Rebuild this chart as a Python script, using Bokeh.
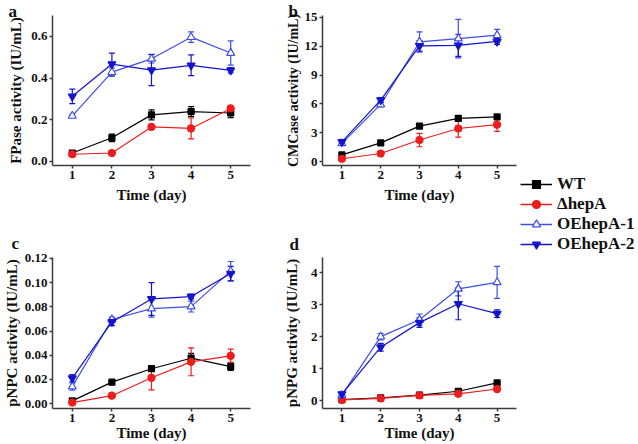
from bokeh.plotting import figure
from bokeh.models import (ColumnDataSource, Whisker, TeeHead, Title, FixedTicker,
                          Legend, LegendItem, Range1d, NumeralTickFormatter)
from bokeh.layouts import row, column
from bokeh.embed import file_html
from bokeh.resources import INLINE

FONT = "Liberation Serif"

# ---------------- data ----------------
days = [1, 2, 3, 4, 5]
series_names = ["WT", "\u0394hepA", "OEhepA-1", "OEhepA-2"]

# a: FPase
fp_wt = [0.040, 0.113, 0.223, 0.239, 0.232]
fp_wt_err = [0.005, 0.018, 0.024, 0.024, 0.022]
fp_dh = [0.034, 0.040, 0.165, 0.158, 0.254]
fp_dh_err = [0.004, 0.005, 0.010, 0.050, 0.006]
fp_oe1 = [0.218, 0.428, 0.492, 0.596, 0.520]
fp_oe1_err = [0.008, 0.020, 0.020, 0.025, 0.058]
fp_oe2 = [0.312, 0.467, 0.438, 0.461, 0.437]
fp_oe2_err = [0.035, 0.052, 0.075, 0.050, 0.013]
fp_ticks = [0.0, 0.2, 0.4, 0.6]

# b: CMCase
cmc_wt = [0.70, 1.95, 3.70, 4.50, 4.65]
cmc_wt_err = [0.10, 0.15, 0.12, 0.10, 0.12]
cmc_dh = [0.30, 0.85, 2.25, 3.45, 3.85]
cmc_dh_err = [0.08, 0.10, 0.70, 0.90, 0.70]
cmc_oe1 = [1.90, 5.95, 12.45, 12.80, 13.15]
cmc_oe1_err = [0.15, 0.25, 1.05, 2.00, 0.60]
cmc_oe2 = [2.05, 6.40, 12.05, 12.10, 12.50]
cmc_oe2_err = [0.15, 0.25, 0.55, 1.15, 0.30]
cmc_ticks = [0, 3, 6, 9, 12, 15]

# c: pNPC
npc_wt = [0.0022, 0.0177, 0.0288, 0.0375, 0.0305]
npc_wt_err = [0.001, 0.001, 0.002, 0.004, 0.003]
npc_dh = [0.0008, 0.0065, 0.0213, 0.0345, 0.0395]
npc_dh_err = [0.001, 0.001, 0.010, 0.0115, 0.0055]
npc_oe1 = [0.0140, 0.0695, 0.0785, 0.0802, 0.1095]
npc_oe1_err = [0.003, 0.002, 0.007, 0.0045, 0.008]
npc_oe2 = [0.0210, 0.0675, 0.0865, 0.0885, 0.1075]
npc_oe2_err = [0.003, 0.003, 0.0135, 0.002, 0.006]
npc_ticks = [0.00, 0.02, 0.04, 0.06, 0.08, 0.10, 0.12]

# d: pNPG
npg_wt = [0.03, 0.08, 0.17, 0.29, 0.55]
npg_wt_err = [0.01, 0.02, 0.03, 0.03, 0.04]
npg_dh = [0.02, 0.07, 0.16, 0.21, 0.36]
npg_dh_err = [0.01, 0.02, 0.03, 0.04, 0.08]
npg_oe1 = [0.17, 2.00, 2.53, 3.50, 3.70]
npg_oe1_err = [0.05, 0.10, 0.18, 0.22, 0.50]
npg_oe2 = [0.20, 1.67, 2.44, 3.03, 2.72]
npg_oe2_err = [0.05, 0.12, 0.15, 0.50, 0.12]
npg_ticks = [0, 1, 2, 3, 4]

# ---------------- style ----------------
STYLES = [
    dict(color="#000000", marker="square", size=6, fill="#000000"),
    dict(color="#ee1c1c", marker="circle", size=7, fill="#ee1c1c"),
    dict(color="#3d4fe4", marker="triangle", size=8, fill="#ffffff"),
    dict(color="#1414cc", marker="inverted_triangle", size=8, fill="#1414cc"),
]
AXIS_COLOR = "#3c3c3c"
XR = (0.5, 5.5)


def make_panel(width, height, bl, br, bt, bb, yr, yticks, yfmt, data, ylabel,
               ylab_standoff, xlab_standoff, letter, letter_offset,
               letter_standoff, letter_valign, ylab_size="15px"):
    p = figure(width=width, height=height, x_range=Range1d(*XR),
               y_range=Range1d(*yr), output_backend="svg",
               toolbar_location=None, min_border_left=bl,
               min_border_right=br, min_border_top=bt, min_border_bottom=bb)
    p.title = None
    p.outline_line_color = None
    p.grid.visible = False
    p.background_fill_color = "white"
    p.border_fill_color = "white"
    p.xaxis.ticker = FixedTicker(ticks=days)
    p.yaxis.ticker = FixedTicker(ticks=yticks)
    p.yaxis.formatter = NumeralTickFormatter(format=yfmt)
    for ax in (p.xaxis[0], p.yaxis[0]):
        ax.axis_line_color = AXIS_COLOR
        ax.axis_line_width = 1.5
        ax.major_tick_line_color = AXIS_COLOR
        ax.major_tick_line_width = 1.5
        ax.major_tick_in = 0
        ax.major_tick_out = 3
        ax.minor_tick_line_color = None
        ax.major_label_text_font = FONT
        ax.major_label_text_font_style = "bold"
        ax.major_label_text_font_size = "13px"
        ax.major_label_text_color = "#111111"
        ax.major_label_standoff = 2
        ax.axis_label_text_font = FONT
        ax.axis_label_text_font_style = "bold"
        ax.axis_label_text_font_size = "15px"
        ax.axis_label_text_color = "#111111"
    p.xaxis.axis_label = "Time (day)"
    p.xaxis.axis_label_standoff = xlab_standoff
    p.yaxis.axis_label = ylabel
    p.yaxis.axis_label_text_font_size = ylab_size
    p.yaxis.axis_label_standoff = ylab_standoff
    for (vals, errs), st in zip(data, STYLES):
        src = ColumnDataSource(dict(
            x=days, y=vals,
            upper=[v + e for v, e in zip(vals, errs)],
            lower=[v - e for v, e in zip(vals, errs)]))
        p.line("x", "y", source=src, line_color=st["color"], line_width=1.2)
        w = Whisker(base="x", upper="upper", lower="lower", source=src,
                    line_color=st["color"], line_width=1.2,
                    upper_head=TeeHead(size=6, line_color=st["color"], line_width=1.2),
                    lower_head=TeeHead(size=6, line_color=st["color"], line_width=1.2))
        p.add_layout(w)
        p.scatter("x", "y", source=src, marker=st["marker"], size=st["size"],
                  line_color=st["color"], fill_color=st["fill"], line_width=1.2)
    # panel letter as a title above the frame, shifted to the left
    p.add_layout(Title(text=letter, align="left", offset=letter_offset,
                       standoff=letter_standoff, vertical_align=letter_valign,
                       text_font=FONT, text_font_style="bold",
                       text_font_size="17px", text_color="#111111"), "above")
    return p


LW, RW = 280, 238
TH, BH = 220, 224

pa = make_panel(LW, TH, 48, 30, 15, 55, (-0.02, 0.70), fp_ticks, "0.0",
                [(fp_wt, fp_wt_err), (fp_dh, fp_dh_err), (fp_oe1, fp_oe1_err), (fp_oe2, fp_oe2_err)],
                "FPase activity (IU/mL)", 4, 5, "a", -44, -14, "top")
pc = make_panel(LW, BH, 48, 30, 37, 36, (-0.0041, 0.1208), npc_ticks, "0.00",
                [(npc_wt, npc_wt_err), (npc_dh, npc_dh_err), (npc_oe1, npc_oe1_err), (npc_oe2, npc_oe2_err)],
                "pNPC activity (IU/mL)", 2, 0, "c", -41, 9, "bottom")
pb = make_panel(RW, TH, 35, 2, 15, 55, (-0.4, 15.2), cmc_ticks, "0",
                [(cmc_wt, cmc_wt_err), (cmc_dh, cmc_dh_err), (cmc_oe1, cmc_oe1_err), (cmc_oe2, cmc_oe2_err)],
                "CMCase activity (IU/mL)", 1, 5, "b", -34, -15, "top", "14px")
pd = make_panel(RW, BH, 35, 2, 37, 36, (-0.25, 4.48), npg_ticks, "0",
                [(npg_wt, npg_wt_err), (npg_dh, npg_dh_err), (npg_oe1, npg_oe1_err), (npg_oe2, npg_oe2_err)],
                "pNPG activity (IU/mL)", 8, 0, "d", -33, 7, "bottom")

# legend figure (dummy renderers sit outside its visible range)
pl = figure(width=638 - LW - RW, height=TH + BH, output_backend="svg",
            toolbar_location=None, x_axis_location=None, y_axis_location=None,
            min_border=0, x_range=Range1d(1, 2), y_range=Range1d(1, 2))
pl.title = None
pl.outline_line_color = None
pl.grid.visible = False
items = []
for name, st in zip(series_names, STYLES):
    r1 = pl.line(x=[0, 0.5], y=[0, 0.5], line_color=st["color"], line_width=1.6)
    r2 = pl.scatter(x=[0], y=[0], marker=st["marker"], size=st["size"] + 3,
                    line_color=st["color"], fill_color=st["fill"], line_width=1.2)
    items.append(LegendItem(label=name, renderers=[r1, r2]))
leg = Legend(items=items, location=(2, 190), glyph_width=32, glyph_height=20,
             label_height=20, label_standoff=5, spacing=0, padding=0, margin=0,
             border_line_color=None, background_fill_alpha=0,
             label_text_font=FONT, label_text_font_style="bold",
             label_text_font_size="17px", label_text_color="#111111")
pl.add_layout(leg, "center")

layout = row(column(pa, pc), column(pb, pd), pl)

with open("out.html", "w") as f:
    f.write(file_html(layout, INLINE))
